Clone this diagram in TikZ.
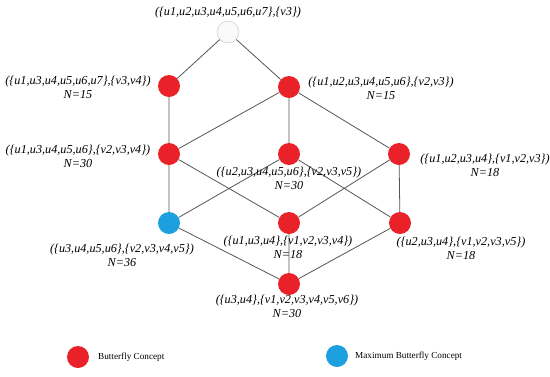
\documentclass[tikz,border=0pt]{standalone}
\usepackage{fontspec}
\setmainfont{Liberation Serif}
\definecolor{cred}{RGB}{232,34,40}
\definecolor{cblue}{RGB}{28,160,222}
\definecolor{cline}{RGB}{85,85,85}
\begin{document}
\begin{tikzpicture}[x=1pt,y=-1pt,
  concept/.style={circle,minimum size=22pt,inner sep=0pt,fill=cred},
  maxconcept/.style={concept,fill=cblue},
  topconcept/.style={circle,minimum size=22pt,inner sep=0pt,fill=gray!5,draw=gray!35,line width=0.6pt},
  lbl/.style={font=\fontsize{12.2}{14}\selectfont\itshape,align=center,inner sep=0pt},
  legtext/.style={font=\fontsize{9.2}{11}\selectfont,anchor=west,inner sep=0pt},
  edge/.style={draw=cline,line width=0.8pt}]
\useasboundingbox (0,0) rectangle (550,376);
% nodes
\node[topconcept] (t) at (228,32) {};
\node[concept] (a) at (169,86) {};
\node[concept] (b) at (289,87) {};
\node[concept] (c) at (169,154) {};
\node[concept] (d) at (289,154) {};
\node[concept] (e) at (399,154) {};
\node[maxconcept] (f) at (169,223) {};
\node[concept] (g) at (289,223) {};
\node[concept] (h) at (400,223) {};
\node[concept] (i) at (289,284) {};
% edges
\path[edge] (t) -- (a) (t) -- (b)
  (a) -- (c)
  (b) -- (c) (b) -- (d) (b) -- (e)
  (c) -- (f) (c) -- (g)
  (d) -- (f) (d) -- (h)
  (e) -- (g) (e) -- (h)
  (f) -- (i) (g) -- (i) (h) -- (i);
% labels
\node[lbl] (lt) at (228,13) {(\{u1,u2,u3,u4,u5,u6,u7\},\{v3\})};
\node[lbl] (la) at (78,87) {(\{u1,u3,u4,u5,u6,u7\},\{v3,v4\})\\N=15};
\node[lbl] (lb) at (381,88) {(\{u1,u2,u3,u4,u5,u6\},\{v2,v3\})\\N=15};
\node[lbl] (lc) at (78,156) {(\{u1,u3,u4,u5,u6\},\{v2,v3,v4\})\\N=30};
\node[lbl] (ld) at (289,178) {(\{u2,u3,u4,u5,u6\},\{v2,v3,v5\})\\N=30};
\node[lbl] (le) at (485,165) {(\{u1,u2,u3,u4\},\{v1,v2,v3\})\\N=18};
\node[lbl] (lf) at (122,255) {(\{u3,u4,u5,u6\},\{v2,v3,v4,v5\})\\N=36};
\node[lbl] (lg) at (288,247) {(\{u1,u3,u4\},\{v1,v2,v3,v4\})\\N=18};
\node[lbl] (lh) at (461,248) {(\{u2,u3,u4\},\{v1,v2,v3,v5\})\\N=18};
\node[lbl] (li) at (287,306) {(\{u3,u4\},\{v1,v2,v3,v4,v5,v6\})\\N=30};
% legend
\node[concept] (k1) at (78,357) {};
\node[legtext] (k1t) at (98,357) {Butterfly Concept};
\node[maxconcept] (k2) at (337,356) {};
\node[legtext] (k2t) at (355,356) {Maximum Butterfly Concept};
\end{tikzpicture}
\end{document}
